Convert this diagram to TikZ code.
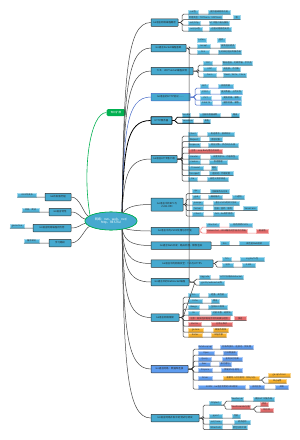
\documentclass[tikz,border=0pt]{standalone}
\usepackage{fontspec}
\newfontfamily\cjk{Noto Sans CJK SC}
\usetikzlibrary{shapes.geometric}
\definecolor{prim}{HTML}{46A9CF}
\definecolor{leafc}{HTML}{50B4DA}
\definecolor{leafd}{HTML}{A2D8EC}
\definecolor{redc}{HTML}{E26A6A}
\definecolor{redd}{HTML}{F5B5B5}
\definecolor{orc}{HTML}{F6B02A}
\definecolor{ord}{HTML}{FBD68E}
\definecolor{blc}{HTML}{5E9CF0}
\definecolor{bld}{HTML}{AECBF8}
\definecolor{grn}{HTML}{00B050}
\definecolor{lnc}{HTML}{454545}
\definecolor{bluel}{HTML}{4468C8}
\definecolor{pinkl}{HTML}{F08A8A}
\tikzset{
  pn/.style={rectangle, fill=prim, draw=black!80, line width=0.5pt, rounded corners=0.4pt,
    minimum height=7.5pt, inner sep=0.5pt, font=\cjk\fontsize{2.45}{3}\selectfont, text=black!85},
  lf/.style={rectangle, fill=leafc, draw=leafd, line width=0.4pt, minimum height=4pt,
    inner sep=0.4pt, font=\cjk\fontsize{2.2}{2.5}\selectfont, text=black!80},
  lfr/.style={lf, fill=redc, draw=redd},
  lfo/.style={lf, fill=orc, draw=ord},
  lfb/.style={lf, fill=blc, draw=bld},
  mline/.style={draw=lnc, line width=0.5pt},
  ul/.style={draw=black!75, line width=0.5pt, rounded corners=1.5pt},
  centre/.style={ellipse, fill=prim, draw=grn, line width=0.6pt, minimum width=52pt, minimum height=18pt,
    inner sep=0pt, align=center, text=white, font=\cjk\fontsize{3.1}{3.8}\selectfont},
}
\newcommand\lf[5][lf]{\node[#1,minimum width=#4pt,anchor=west] (#2) at (#3) {#5};}
\newcommand\pn[5][pn]{\node[#1,minimum width=#4pt] (#2) at (#3) {#5};}
\begin{document}
\begin{tikzpicture}[x=1pt,y=-1pt]
\fill[white] (0,0) rectangle (300,440);
\useasboundingbox (0,0) rectangle (300,440);

% central (shape placed first for its anchors; redrawn on top later)
\node[centre] (C) at (111,221) {网络：net、web、net/\\http、RESTful};
\coordinate (cu) at (122,214);
\coordinate (cd) at (122,228);

% primary nodes
\pn{R1}{164.5,22.5}{27}{Go语言网络编程概述}
\pn{R2}{168.5,48}{35}{Go语言Socket编程基础}
\pn{R3}{172,71}{42}{TCP、UDP Socket编程实现}
\pn[pn,draw=bluel]{R4}{170.5,97}{39}{Go语言的HTTP协议……}
\pn[pn,draw=black,line width=0.8pt]{R5}{161.5,120.5}{21}{HTTP服务器}
\pn{R6}{164,159}{26}{Go语言HTTP客户端}
\node[pn,minimum width=32pt,minimum height=13pt,align=center] (R7) at (167,204.5) {Go语言中的RPC与\\JSON-RPC};
\pn{R8}{175,231}{48}{Go语言中的JSON处理与序列化}
\pn{R9}{181,245.5}{60}{Go语言Web开发：路由处理、模板渲染}
\pn{R10}{182,263.5}{62}{Go语言中的网络安全：TLS与HTTPS}
\pn{R11}{170,282}{38}{Go语言中的WebSocket编程}
\pn{R12}{165,317.5}{28}{Go语言网络框架}
\pn[pn,fill=blc]{R13}{169.5,369}{37}{Go语言网络：数据库连接}
\pn{R14}{175,418}{48}{Go语言网络开发中的测试与调试}

% left nodes
\pn{L1}{58,197}{26}{Go的发展历程}
\pn{L2}{60,212}{22}{Go语言特性}
\pn{L3}{52,228}{38}{Go语言网络编程的优势}
\pn{L4}{60,243}{22}{学习路线}
\node[lf,minimum width=19pt] (x1) at (27,195) {2009年发布};
\node[lf,minimum width=17pt] (x2) at (30.5,210) {并发、简洁};
\node[lf,minimum width=14pt] (x3) at (17,226) {goroutine};
\node[lf,minimum width=15pt] (x4) at (31.5,241) {循序渐进};

% green node
\node[rectangle, rounded corners=1.5pt, fill=grn, minimum width=19pt, minimum height=7pt, inner sep=0.5pt,
  text=white, font=\cjk\fontsize{2.6}{3}\selectfont] (G) at (116,112.5) {知识扩展};

% main connectors
\draw[draw=grn, line width=0.6pt] (C.165) .. controls (82,170) and (90,113) .. (G.west);
\draw[mline] (cu) .. controls (124,80) and (126,22.5) .. (R1.west);
\draw[mline] (cu) .. controls (124,97.8) and (126,48) .. (R2.west);
\draw[mline] (cu) .. controls (124,113.9) and (126,71) .. (R3.west);
\draw[draw=bluel, line width=0.5pt] (cu) .. controls (124,132.1) and (126,97) .. (R4.west);
\draw[draw=black, line width=0.8pt] (cu) .. controls (124,148.5) and (126,120.5) .. (R5.west);
\draw[mline] (cu) .. controls (124,175.5) and (128,159) .. (R6.west);
\draw[mline] (cu) .. controls (126,208) and (132,204.5) .. (R7.west);
\draw[mline] (cd) .. controls (126,229) and (132,231) .. (R8.west);
\draw[mline] (cd) .. controls (124,240.2) and (130,245.5) .. (R9.west);
\draw[mline] (cd) .. controls (124,252.9) and (128,263.5) .. (R10.west);
\draw[mline] (cd) .. controls (124,265.8) and (127,282) .. (R11.west);
\draw[mline] (cd) .. controls (124,290.6) and (126,317.5) .. (R12.west);
\draw[mline] (cd) .. controls (124,326.7) and (126,369) .. (R13.west);
\draw[mline] (cd) .. controls (124,361) and (126,418) .. (R14.west);
\draw[mline] (L1.east) .. controls +(9,0) and +(-5,-2) .. (C.168);
\draw[mline] (L2.east) .. controls +(8,0) and +(-5,-1) .. (C.176);
\draw[mline] (L3.east) .. controls +(8,0) and +(-5,1) .. (C.185);
\draw[mline] (L4.east) .. controls +(9,0) and +(-5,2) .. (C.194);

% central node on top of the curve ends
\node[centre] (C2) at (C) {网络：net、web、net/\\http、RESTful};

% leaves R1
\lf{a11}{188,12}{10}{net包} \lf{a12}{208,12}{22}{提供基础网络功能}
\lf{a21}{188,17.5}{34}{常用类型：TCPConn、UDPConn} \lf{a22}{233,17.5}{7}{等}
\lf{a31}{188,23}{12}{net/http} \lf{a32}{209,23}{19}{HTTP客户端与服务}
\lf{a41}{188,29}{14}{net/rpc包} \lf{a42}{209,29}{22}{远程过程调用支持}
% R2
\lf{b11}{197,40}{9}{Listen} \lf{b12}{217,40}{8}{监听}
\lf{b21}{197,46}{13}{Accept} \lf{b22}{220,46}{15}{接受连接请求}
\lf{b31}{197,52}{12}{Dial} \lf{b32}{218,52}{23}{主动发起连接到服务端}
% R3
\lf{c11}{203,63}{9}{TCP} \lf{c12}{222,63}{30}{面向连接、可靠传输、字节流}
\lf{c21}{203,69}{13}{UDP} \lf{c22}{222,69}{18}{无连接、不可靠}
\lf{c31}{203,75}{13}{Conn} \lf{c32}{223,75}{23}{Read、Write、Close}
% R4
\lf{d11}{200,86}{8}{GET} \lf{d12}{218,86}{15}{获取资源}
\lf{d21}{200,92}{10}{POST} \lf{d22}{220,92}{22}{提交数据、上传文件}
\lf{d31}{200,98}{11}{PUT} \lf{d32}{221,98}{20}{更新资源、幂等}
\lf{d41}{200,103}{12}{DELETE} \lf{d42}{221,103}{20}{删除资源、幂等}
% R5
\lf{e11}{182,115}{7}{Handle} \lf{e12}{199,115}{21}{注册处理器函数} \lf{e13}{231,115}{8}{路由}
\lf{e21}{182,121}{11}{ServeMux} \lf{e22}{203,121}{7}{多路}
% R6
\lf{f11}{188,134}{9}{Client} \lf{f12}{207,134}{27}{发送请求、接收响应}
\lf{f21}{188,139.5}{12}{Request} \lf{f22}{209,139.5}{13}{请求对象}
\lf{f31}{188,145}{12}{Response} \lf{f32}{208,145}{30}{响应对象、状态码与头部}
\lf[lfr]{f4}{188,151}{34}{注意：resp.Body用后须关闭}
\lf{f51}{188,157}{12}{Header} \lf{f52}{210,157}{28}{设置请求头、内容类型}
\lf{f61}{188,162}{12}{Cookie} \lf{f62}{209,162}{18}{会话管理}
\lf{f71}{188,168}{15}{Timeout} \lf{f72}{211,168}{6}{超时}
\lf{f81}{188,173.5}{12}{Transport} \lf{f82}{209,173.5}{24}{连接池、代理配置}
\lf{f91}{188,179}{9}{Do} \lf{f92}{207,179}{21}{自定义请求发送}
% R7
\lf{g11}{192,191.5}{7.5}{rpc} \lf{g12}{210,191.5}{19}{注册服务与方法}
\lf{g21}{192,197}{8}{gob} \lf{g22}{208,197}{14}{编码格式} \lf{g23}{232,197}{12}{二进制}
\lf{g31}{192,203}{11}{jsonrpc} \lf{g32}{213,203}{26}{基于JSON的RPC协议}
\lf{g41}{192,208.5}{11}{Server} \lf{g42}{213,208.5}{20}{注册、监听、服务} \lf{g43}{243,208.5}{14}{ServeConn}
\lf{g51}{192,214}{11}{Client} \lf{g52}{213,214}{21}{Call、Go异步调用}
% R8
\lf{h11}{206,225}{13}{Marshal} \lf{h12}{229,225}{23}{结构体转JSON}
\lf[lfr]{h21}{206,231}{41}{Unmarshal：JSON解析时字段须可导出} \lf[lfr]{h22}{256,231}{12}{易出错}
% R9
\lf{i1}{220,243.5}{9}{Gin} \lf{i2}{239,243.5}{30}{高性能Web框架}
% R10
\lf{j11}{222,259}{9}{TLS} \lf{j12}{240,259}{24}{crypto/tls包}
\lf{j21}{222,265}{11}{证书} \lf{j22}{242,265}{13}{X.509}
% R11
\lf{k11}{199,277}{11}{Upgrade} \lf{k12}{219,277}{24}{HTTP升级WebSocket}
\lf{k21}{199,283}{25}{gorilla/websocket库}
% R12
\lf{l11}{188,295}{11}{Gin} \lf{l12}{208,295}{19}{轻量、高性能}
\lf{l21}{188,301}{14}{Echo} \lf{l22}{211,301}{8}{简洁}
\lf{l31}{188,307}{11}{Beego} \lf{l32}{208,307}{19}{全栈MVC框架}
\lf{l41}{188,313}{11}{Iris} \lf{l42}{211,313}{21}{功能丰富、速度快}
\lf[lfr]{l51}{188,318.5}{42}{注意：框架选择需结合项目规模与经验} \lf[lfr]{l52}{234,318.5}{12}{慎选}
\lf[lfr]{l61}{188,324}{13}{Martini} \lf[lfr]{l62}{211,324}{21}{已停止维护}
\lf[lfo]{l71}{188,330}{15}{go-zero} \lf[lfo]{l72}{213,330}{15}{微服务框架}
\lf[lfo]{l81}{188,335}{14}{Kratos} \lf[lfo]{l82}{211,335}{15}{B站开源}
% R13
\lf[lfb]{m11}{198,347}{12}{database/sql} \lf[lfb]{m12}{220,347}{33}{标准库接口、连接池、预处理}
\lf[lfb]{m21}{198,353}{16}{Open} \lf[lfb]{m22}{223,353}{14}{打开数据库}
\lf[lfb]{m31}{198,359}{13}{Query} \lf[lfb]{m32}{222,359}{20}{查询多行结果}
\lf[lfb]{m41}{198,364}{12}{Exec} \lf[lfb]{m42}{219,364}{12}{执行语句}
\lf[lfb]{m51}{198,370}{14}{Prepare} \lf[lfb]{m52}{221,370}{21}{预编译SQL语句}
\lf[lfb]{m61}{198,378}{14}{Driver} \lf[lfo]{m62}{223,378}{36}{需要导入对应驱动：如MySQL}
\lf[lfo]{n1}{268,375}{22}{go-sql-driver} \lf[lfo]{n2}{268,381}{18}{lib/pq等}
\lf[lfb]{m71}{198,387}{47}{GORM：Go语言常用的ORM框架} \lf[lfb]{m72}{249,387}{15}{自动迁移} \lf[lfb]{m73}{275,387}{13}{关联}
\coordinate (bm) at (263,380);
% R14
\lf{p1}{209,403}{12}{httptest}
\lf{p11}{231,399}{12}{NewServer} \lf{p12}{253,399}{21}{模拟HTTP服务端}
\lf[lfr]{p2}{231,407}{18}{NewRecorder记录}
\lf[lfr]{p21}{260,404}{8}{状态} \lf[lfr]{p22}{260,410}{13}{响应体}
\lf{p31}{209,416}{13}{pprof} \lf{p32}{232,416}{8}{性能}
\lf{p41}{209,422}{13}{net/trace} \lf{p42}{234,422}{16}{请求追踪}
\lf{p51}{209,427.5}{13}{Wireshark} \lf{p52}{232,427.5}{15}{抓包分析工具}
\coordinate (bq) at (225,405);
\coordinate (br) at (255,409);

% bracket coordinates
\coordinate (b1) at (182,22.5);
\coordinate (b2) at (189,48);
\coordinate (b3) at (198,71);
\coordinate (b4) at (195,97);
\coordinate (b5) at (176,120.5);
\coordinate (b6) at (182,159);
\coordinate (b7) at (186,204.5);
\coordinate (b8) at (201,231);
\coordinate (b10) at (216,263.5);
\coordinate (b11) at (195,282);
\coordinate (b12) at (183,317.5);
\coordinate (b13) at (193,369);
\coordinate (b14) at (203,418);

% underlines
\draw[ul] (L1.west) -- (x1.south west);
\draw[ul] (L2.west) -- (x2.south west);
\draw[ul] (L3.west) -- (x3.south west);
\draw[ul] (L4.west) -- (x4.south west);

\foreach \a/\b in {a11/a12,a21/a22,a31/a32,a41/a42}
  \draw[ul] (R1.east) -- (b1) |- (\a.south west) -- (\b.south east);
\foreach \a/\b in {b11/b12,b21/b22,b31/b32}
  \draw[ul] (R2.east) -- (b2) |- (\a.south west) -- (\b.south east);
\foreach \a/\b in {c11/c12,c21/c22,c31/c32}
  \draw[ul] (R3.east) -- (b3) |- (\a.south west) -- (\b.south east);
\foreach \a/\b in {d11/d12,d21/d22,d31/d32,d41/d42}
  \draw[ul,draw=bluel] (R4.east) -- (b4) |- (\a.south west) -- (\b.south east);
\foreach \a/\b in {e11/e13,e21/e22}
  \draw[ul,draw=black,line width=0.7pt] (R5.east) -- (b5) |- (\a.south west) -- (\b.south east);
\foreach \a/\b in {f11/f12,f21/f22,f31/f32,f4/f4,f51/f52,f61/f62,f71/f72,f81/f82,f91/f92}
  \draw[ul] (R6.east) -- (b6) |- (\a.south west) -- (\b.south east);
\foreach \a/\b in {g11/g12,g21/g23,g31/g32,g41/g43,g51/g52}
  \draw[ul] (R7.east) -- (b7) |- (\a.south west) -- (\b.south east);
\foreach \a/\b in {h11/h12,h21/h22}
  \draw[ul,draw=pinkl] (R8.east) -- (b8) |- (\a.south west) -- (\b.south east);
\draw[ul] (R9.east) -- (i1.south west) -- (i2.south east);
\foreach \a/\b in {j11/j12,j21/j22}
  \draw[ul] (R10.east) -- (b10) |- (\a.south west) -- (\b.south east);
\foreach \a/\b in {k11/k12,k21/k21}
  \draw[ul] (R11.east) -- (b11) |- (\a.south west) -- (\b.south east);
\foreach \a/\b in {l11/l12,l21/l22,l31/l32,l41/l42,l51/l52,l61/l62,l71/l72,l81/l82}
  \draw[ul] (R12.east) -- (b12) |- (\a.south west) -- (\b.south east);
\foreach \a/\b in {m11/m12,m21/m22,m31/m32,m41/m42,m51/m52,m61/m62,m71/m73}
  \draw[ul] (R13.east) -- (b13) |- (\a.south west) -- (\b.south east);
\draw[ul] (m62.south east) -- (bm) |- (n1.south west) -- (n1.south east);
\draw[ul] (m62.south east) -- (bm) |- (n2.south west) -- (n2.south east);
\foreach \a/\b in {p1/p1,p31/p32,p41/p42,p51/p52}
  \draw[ul] (R14.east) -- (b14) |- (\a.south west) -- (\b.south east);
\draw[ul] (p1.south east) -- (bq) |- (p11.south west) -- (p12.south east);
\draw[ul] (p1.south east) -- (bq) |- (p2.south west) -- (p2.south east);
\draw[ul] (p2.south east) -- (br) |- (p21.south west) -- (p21.south east);
\draw[ul] (p2.south east) -- (br) |- (p22.south west) -- (p22.south east);
\end{tikzpicture}
\end{document}
